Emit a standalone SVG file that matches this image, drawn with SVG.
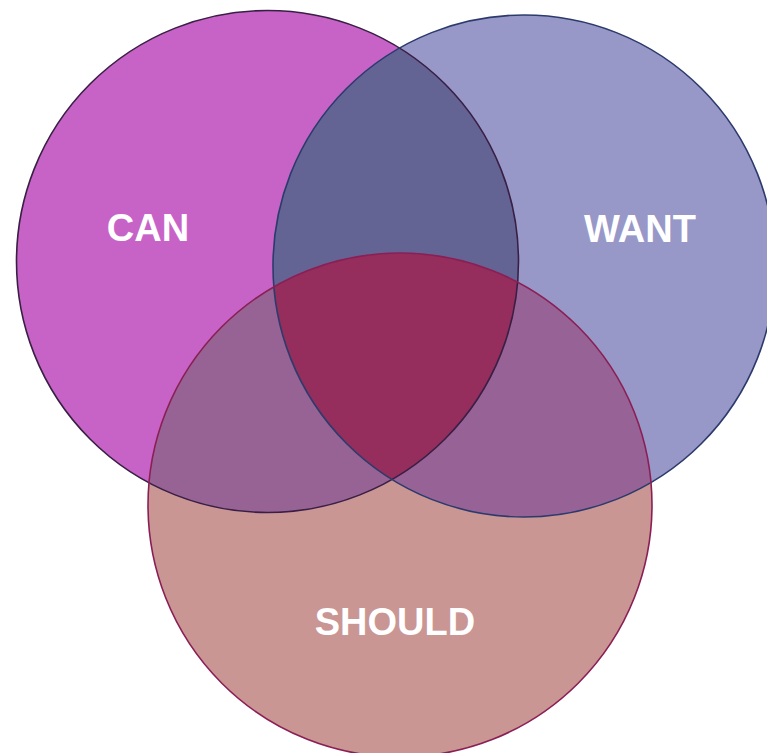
<svg xmlns="http://www.w3.org/2000/svg" width="767" height="753" viewBox="0 0 767 753">
  <style>
    .lbl { font-family: "Liberation Sans", Arial, sans-serif; font-weight: bold; font-size: 38px; fill: #ffffff; text-anchor: middle; }
  </style>
  <defs>
    <clipPath id="clipCan"><circle cx="267.5" cy="261.5" r="251"/></clipPath>
    <clipPath id="clipWant"><circle cx="524" cy="266" r="251"/></clipPath>
    <clipPath id="clipShould"><circle cx="400" cy="505" r="252"/></clipPath>
  </defs>
  <rect x="0" y="0" width="767" height="753" fill="#ffffff"/>
  <g id="fills">
    <circle cx="267.5" cy="261.5" r="251" fill="#C763C7"/>
    <circle cx="524" cy="266" r="251" fill="#9898C8"/>
    <circle cx="400" cy="505" r="252" fill="#C99694"/>
    <g clip-path="url(#clipCan)">
      <circle cx="524" cy="266" r="251" fill="#646494"/>
      <circle cx="400" cy="505" r="252" fill="#966394"/>
    </g>
    <g clip-path="url(#clipWant)">
      <circle cx="400" cy="505" r="252" fill="#976397" clip-path="url(#clipShould)"/>
    </g>
    <g clip-path="url(#clipCan)">
      <g clip-path="url(#clipWant)">
        <circle cx="400" cy="505" r="252" fill="#952D5D"/>
      </g>
    </g>
  </g>
  <g id="can">
    <circle cx="267.5" cy="261.5" r="251" fill="none" stroke="#3a1f45" stroke-width="1.6"/>
    <text class="lbl" x="148" y="241">CAN</text>
  </g>
  <g id="want">
    <circle cx="524" cy="266" r="251" fill="none" stroke="#2c3b6c" stroke-width="1.6"/>
    <text class="lbl" x="640" y="242">WANT</text>
  </g>
  <g id="should">
    <circle cx="400" cy="505" r="252" fill="none" stroke="#8b1f55" stroke-width="1.6"/>
    <text class="lbl" x="395" y="635">SHOULD</text>
  </g>
  <g id="connectors"></g>
</svg>
